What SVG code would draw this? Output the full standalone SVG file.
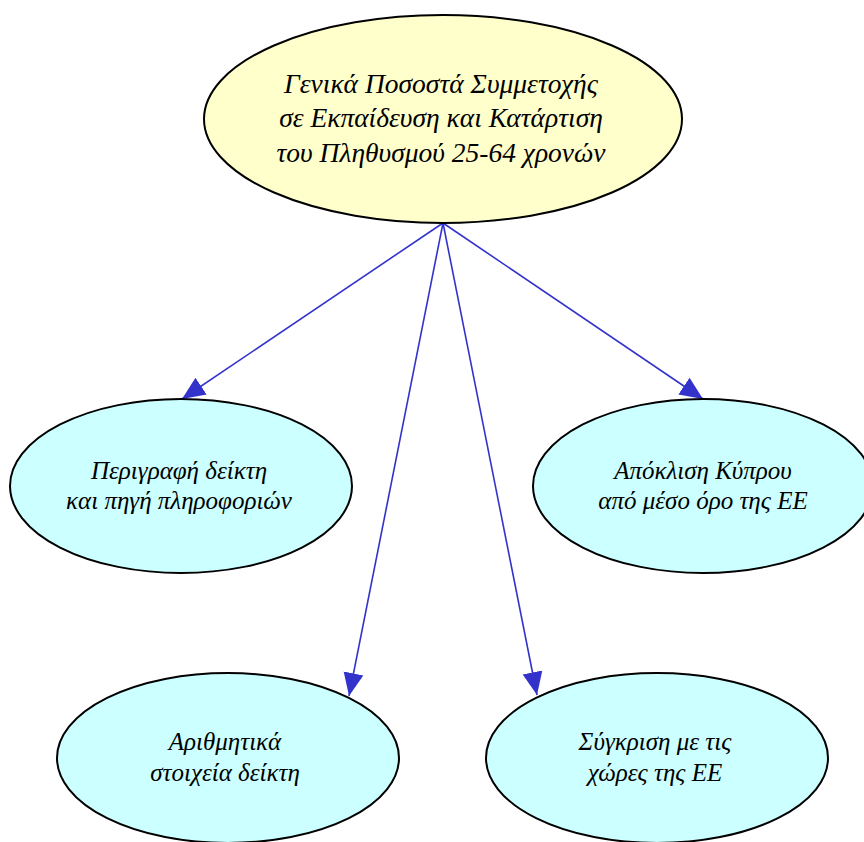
<svg xmlns="http://www.w3.org/2000/svg" width="864" height="842" viewBox="0 0 864 842">
<style>
.node ellipse{stroke:#000;stroke-width:2}
.root ellipse{fill:#ffffcc}
.leaf ellipse{fill:#ccffff}
text{font-family:"Liberation Serif","DejaVu Serif",serif;font-style:italic;fill:#000;text-anchor:middle}
.root text{font-size:27.5px}
.leaf text{font-size:25px}
.edges line{stroke:#3333cc;stroke-width:1.6;fill:none}
</style>
<defs>
<marker id="arr" markerUnits="userSpaceOnUse" markerWidth="24" markerHeight="22" viewBox="0 0 24 22" refX="23" refY="11" orient="auto">
<path d="M0,1 L23,11 L0,21 Z" fill="#3333cc"/>
</marker>
</defs>
<rect width="864" height="842" fill="#fff"/>
<g class="edges">
<line x1="443" y1="223" x2="182" y2="399" marker-end="url(#arr)"/>
<line x1="443" y1="223" x2="703" y2="399" marker-end="url(#arr)"/>
<line x1="443" y1="223" x2="349" y2="696" marker-end="url(#arr)"/>
<line x1="443" y1="223" x2="537" y2="695" marker-end="url(#arr)"/>
</g>
<g id="root" class="node root">
<ellipse cx="443" cy="119" rx="239" ry="104"/>
<text x="441" y="93">Γενικά Ποσοστά Συμμετοχής</text>
<text x="441" y="127">σε Εκπαίδευση και Κατάρτιση</text>
<text x="441" y="162">του Πληθυσμού 25-64 χρονών</text>
</g>
<g id="desc" class="node leaf">
<ellipse cx="181" cy="486" rx="171" ry="87"/>
<text x="179" y="479">Περιγραφή δείκτη</text>
<text x="179" y="509">και πηγή πληροφοριών</text>
</g>
<g id="deviation" class="node leaf">
<ellipse cx="703" cy="486" rx="170" ry="87"/>
<text x="703" y="479">Απόκλιση Κύπρου</text>
<text x="703" y="509">από μέσο όρο της ΕΕ</text>
</g>
<g id="numbers" class="node leaf">
<ellipse cx="228" cy="758" rx="171" ry="85"/>
<text x="225" y="750">Αριθμητικά</text>
<text x="225" y="781">στοιχεία δείκτη</text>
</g>
<g id="compare" class="node leaf">
<ellipse cx="657" cy="758" rx="171" ry="85"/>
<text x="655" y="750">Σύγκριση με τις</text>
<text x="655" y="781">χώρες της ΕΕ</text>
</g>
</svg>
